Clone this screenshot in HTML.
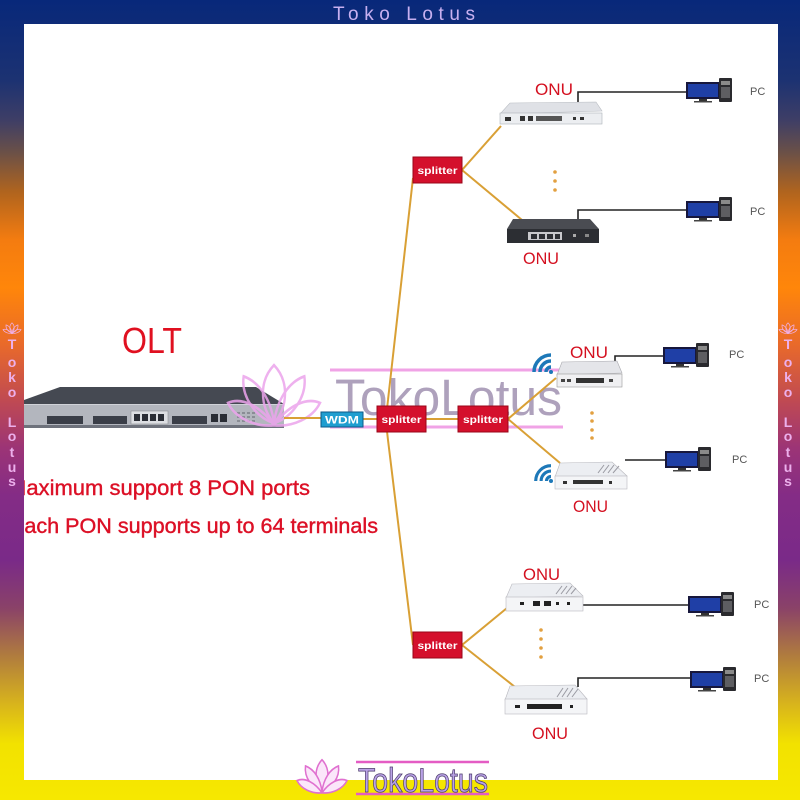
<!DOCTYPE html>
<html><head><meta charset="utf-8"><style>
html,body{margin:0;padding:0;background:#fff;}
body{width:800px;height:800px;overflow:hidden;}
svg{display:block;}
text{font-family:"Liberation Sans",Arial,sans-serif;}
</style></head><body>
<svg width="800" height="800" viewBox="0 0 800 800" xmlns="http://www.w3.org/2000/svg">
<defs>
<linearGradient id="bg" gradientUnits="userSpaceOnUse" x1="0" y1="0" x2="0" y2="800">
<stop offset="0" stop-color="#08287a"/>
<stop offset="0.1" stop-color="#1c3272"/>
<stop offset="0.15" stop-color="#3e3e66"/>
<stop offset="0.19" stop-color="#6a5048"/>
<stop offset="0.24" stop-color="#b0641e"/>
<stop offset="0.3" stop-color="#f47c10"/>
<stop offset="0.36" stop-color="#ff860a"/>
<stop offset="0.43" stop-color="#e96a2a"/>
<stop offset="0.5" stop-color="#c04a52"/>
<stop offset="0.56" stop-color="#9c3476"/>
<stop offset="0.62" stop-color="#842c86"/>
<stop offset="0.7" stop-color="#7a2a88"/>
<stop offset="0.76" stop-color="#8a4268"/>
<stop offset="0.82" stop-color="#b07c3e"/>
<stop offset="0.88" stop-color="#d8b41c"/>
<stop offset="0.93" stop-color="#f2e200"/>
<stop offset="1" stop-color="#f6e800"/>
</linearGradient>
<g id="pc">
<rect x="0" y="4" width="34" height="17" fill="#17173c"/>
<rect x="2" y="6" width="30" height="13" fill="#1f3fa6"/>
<rect x="13" y="21" width="8" height="2" fill="#333"/>
<rect x="8" y="23" width="18" height="1.5" fill="#444"/>
<rect x="33" y="0" width="13" height="24" rx="1" fill="#2a2a2e"/>
<rect x="35" y="3" width="9" height="4" fill="#8a8a8a"/>
<rect x="35" y="9" width="9" height="11" fill="#5e5e62"/>
</g>
<g id="wifi" fill="none" stroke="#1d78b8" stroke-width="3.5">
<path d="M-5,0 A5 5 0 0 1 0,-5"/>
<path d="M-11,0 A11 11 0 0 1 0,-11"/>
<path d="M-17,0 A17 17 0 0 1 0,-17"/>
</g>
<g id="lotus">
<path d="M50,5 C66,20 66,45 50,62 C34,45 34,20 50,5 Z"/>
<path d="M50,62 C30,56 14,36 17,16 C35,22 47,40 50,62 Z"/>
<path d="M50,62 C70,56 86,36 83,16 C65,22 53,40 50,62 Z"/>
<path d="M50,64 C30,66 8,57 0,42 C16,36 36,46 50,64 Z"/>
<path d="M50,64 C70,66 92,57 100,42 C84,36 64,46 50,64 Z"/>
</g>
</defs>

<rect x="0" y="0" width="800" height="800" fill="url(#bg)"/>
<rect x="24" y="24" width="754" height="756" fill="#ffffff"/>

<text x="8" y="495" font-size="21" fill="#dc1026" stroke="#dc1026" stroke-width="0.4" textLength="302" lengthAdjust="spacingAndGlyphs">Maximum support 8 PON ports</text>
<text x="10" y="533" font-size="21" fill="#dc1026" stroke="#dc1026" stroke-width="0.4" textLength="368" lengthAdjust="spacingAndGlyphs">Each PON supports up to 64 terminals</text>
<rect x="0" y="24" width="24" height="756" fill="url(#bg)"/>

<text x="122" y="353" font-size="36" fill="#e01020" textLength="60" lengthAdjust="spacingAndGlyphs">OLT</text>

<line x1="330" y1="370" x2="563" y2="370" stroke="#ee94e2" stroke-width="3" opacity="0.85"/>
<line x1="330" y1="427" x2="563" y2="427" stroke="#ee94e2" stroke-width="3" opacity="0.85"/>
<text x="335" y="415" font-size="51" fill="#9a8aac" opacity="0.8" textLength="227" lengthAdjust="spacingAndGlyphs">TokoLotus</text>

<polygon points="60,387 256,387 284,404 24,405 24,400" fill="#454952"/>
<line x1="24" y1="404.5" x2="284" y2="404.5" stroke="#d0d2d8" stroke-width="1"/>
<rect x="24" y="405" width="260" height="22" fill="#b3b6be"/>
<rect x="24" y="425" width="260" height="3" fill="#6e727c"/>
<rect x="47" y="416" width="36" height="8" fill="#3a3e48"/>
<rect x="93" y="416" width="34" height="8" fill="#3a3e48"/>
<rect x="131" y="411" width="37" height="13" fill="#dcdee2" stroke="#8a8c92" stroke-width="0.6"/>
<rect x="134" y="414" width="6" height="7" fill="#2a2d35"/>
<rect x="142" y="414" width="6" height="7" fill="#2a2d35"/>
<rect x="150" y="414" width="6" height="7" fill="#2a2d35"/>
<rect x="158" y="414" width="6" height="7" fill="#2a2d35"/>
<rect x="172" y="416" width="35" height="8" fill="#3a3e48"/>
<rect x="211" y="414" width="7" height="8" fill="#2a2d35"/>
<rect x="220" y="414" width="7" height="8" fill="#2a2d35"/>
<g fill="#8a8d95">
<rect x="237" y="412" width="3" height="2"/><rect x="242" y="412" width="3" height="2"/><rect x="247" y="412" width="3" height="2"/><rect x="252" y="412" width="3" height="2"/>
<rect x="237" y="416" width="3" height="2"/><rect x="242" y="416" width="3" height="2"/><rect x="247" y="416" width="3" height="2"/><rect x="252" y="416" width="3" height="2"/>
<rect x="237" y="420" width="3" height="2"/><rect x="242" y="420" width="3" height="2"/><rect x="247" y="420" width="3" height="2"/><rect x="252" y="420" width="3" height="2"/>
</g>

<g opacity="0.85" fill="none" stroke="#eca4ec" stroke-width="2.6">
<use href="#lotus" transform="translate(228,360) scale(0.92,1.02)"/>
</g>

<g stroke="#d9a035" stroke-width="2" fill="none">
<path d="M284,418 H321"/>
<path d="M363,419 H377"/>
<path d="M426,419 H458"/>
<path d="M413,178 L388,400 Q385,420 388,440 L413,645"/>
<path d="M462,170 L501,126"/>
<path d="M462,170 L522,220"/>
<path d="M508,419 L556,378"/>
<path d="M508,419 L560,463"/>
<path d="M462,645 L507,608"/>
<path d="M462,645 L515,687"/>
</g>

<rect x="321" y="412" width="42" height="15" fill="#1f9ed0" stroke="#0b5a88" stroke-width="1"/>
<text x="342" y="423.5" font-size="11" font-weight="bold" fill="#fff" text-anchor="middle" textLength="34" lengthAdjust="spacingAndGlyphs">WDM</text>

<g fill="#d4102c" stroke="#9a0618" stroke-width="1">
<rect x="413" y="157" width="49" height="26"/>
<rect x="377" y="406" width="49" height="26"/>
<rect x="458" y="406" width="50" height="26"/>
<rect x="413" y="632" width="49" height="26"/>
</g>
<g font-size="10" font-weight="bold" fill="#fff" text-anchor="middle">
<text x="437.5" y="174" textLength="40" lengthAdjust="spacingAndGlyphs">splitter</text>
<text x="401.5" y="423" textLength="40" lengthAdjust="spacingAndGlyphs">splitter</text>
<text x="483" y="423" textLength="40" lengthAdjust="spacingAndGlyphs">splitter</text>
<text x="437.5" y="649" textLength="40" lengthAdjust="spacingAndGlyphs">splitter</text>
</g>

<g fill="#e2a040">
<circle cx="555" cy="172" r="1.8"/><circle cx="555" cy="181" r="1.8"/><circle cx="555" cy="190" r="1.8"/>
<circle cx="592" cy="413" r="1.8"/><circle cx="592" cy="421" r="1.8"/><circle cx="592" cy="430" r="1.8"/><circle cx="592" cy="438" r="1.8"/>
<circle cx="541" cy="630" r="1.8"/><circle cx="541" cy="639" r="1.8"/><circle cx="541" cy="648" r="1.8"/><circle cx="541" cy="657" r="1.8"/>
</g>

<g stroke="#222" stroke-width="1.6" fill="none">
<path d="M578,102 V92 H688"/>
<path d="M578,220 V210 H686"/>
<path d="M615,367 V356 H663"/>
<path d="M625,460 H665"/>
<path d="M583,605 H688"/>
<path d="M578,687 V678 H690"/>
</g>

<polygon points="510,103 596,102 602,111 500,114" fill="#dfe1e6" stroke="#b8bcc2" stroke-width="0.6"/>
<rect x="500" y="113" width="102" height="11" fill="#eceef1" stroke="#aeb2b8" stroke-width="0.6"/>
<g fill="#333">
<rect x="505" y="117" width="6" height="4"/><rect x="520" y="116" width="5" height="5"/><rect x="528" y="116" width="5" height="5"/>
<rect x="536" y="116" width="26" height="5" fill="#555"/><rect x="573" y="117" width="3" height="3"/><rect x="580" y="117" width="4" height="3"/>
</g>
<polygon points="513,219 590,219 599,229 507,229" fill="#4a4c52"/>
<rect x="507" y="229" width="92" height="14" fill="#2c2e33"/>
<rect x="528" y="232" width="34" height="8" fill="#c8c8cc"/>
<g fill="#2c2e33"><rect x="531" y="234" width="6" height="5"/><rect x="539" y="234" width="6" height="5"/><rect x="547" y="234" width="6" height="5"/><rect x="555" y="234" width="5" height="5"/></g>
<rect x="573" y="234" width="3" height="3" fill="#aaa"/><rect x="585" y="234" width="4" height="3" fill="#888"/>
<polygon points="562,362 617,361 622,373 557,375" fill="#e4e5e9" stroke="#a8a8ae" stroke-width="0.6"/>
<rect x="557" y="374" width="65" height="13" fill="#f0f0f2" stroke="#999" stroke-width="0.6"/>
<rect x="576" y="378" width="28" height="5" fill="#333"/>
<rect x="561" y="379" width="4" height="3" fill="#444"/><rect x="567" y="379" width="4" height="3" fill="#444"/><rect x="609" y="379" width="4" height="3" fill="#444"/>
<use href="#wifi" transform="translate(551,372)"/>
<circle cx="551" cy="372" r="2" fill="#1d78b8"/>
<polygon points="560,463 612,462 627,476 555,477" fill="#eceef2" stroke="#b8b8be" stroke-width="0.6"/>
<g stroke="#9a9aa2" stroke-width="1"><line x1="598" y1="473" x2="604" y2="465"/><line x1="603" y1="473" x2="609" y2="465"/><line x1="608" y1="473" x2="614" y2="465"/><line x1="613" y1="473" x2="619" y2="466"/></g>
<rect x="555" y="476" width="72" height="13" fill="#f4f5f7" stroke="#b8b8be" stroke-width="0.6"/>
<rect x="573" y="480" width="30" height="4" fill="#333"/>
<rect x="563" y="481" width="4" height="3" fill="#333"/><rect x="609" y="481" width="3" height="3" fill="#333"/>
<use href="#wifi" transform="translate(551,481) scale(0.9)"/>
<circle cx="551" cy="481" r="2" fill="#1d78b8"/>
<polygon points="512,584 570,583 583,596 506,598" fill="#eceef2" stroke="#b8b8be" stroke-width="0.6"/>
<g stroke="#9a9aa2" stroke-width="1"><line x1="556" y1="594" x2="562" y2="586"/><line x1="561" y1="594" x2="567" y2="586"/><line x1="566" y1="594" x2="572" y2="586"/><line x1="571" y1="594" x2="576" y2="588"/></g>
<rect x="506" y="597" width="77" height="14" fill="#f4f5f7" stroke="#b8b8be" stroke-width="0.6"/>
<rect x="520" y="602" width="4" height="3" fill="#222"/><rect x="533" y="601" width="7" height="5" fill="#222"/><rect x="544" y="601" width="7" height="5" fill="#222"/><rect x="556" y="602" width="3" height="3" fill="#222"/><rect x="567" y="602" width="3" height="3" fill="#222"/>
<polygon points="510,686 575,685 587,699 505,700" fill="#eceef2" stroke="#b8b8be" stroke-width="0.6"/>
<g stroke="#9a9aa2" stroke-width="1"><line x1="557" y1="697" x2="563" y2="688"/><line x1="562" y1="697" x2="568" y2="688"/><line x1="567" y1="697" x2="573" y2="688"/><line x1="572" y1="697" x2="578" y2="689"/></g>
<rect x="505" y="699" width="82" height="15" fill="#f4f5f7" stroke="#b8b8be" stroke-width="0.6"/>
<rect x="527" y="704" width="35" height="5" fill="#222"/>
<rect x="515" y="705" width="5" height="3" fill="#222"/><rect x="570" y="705" width="3" height="3" fill="#222"/>

<use href="#pc" transform="translate(686,78)"/>
<use href="#pc" transform="translate(686,197)"/>
<use href="#pc" transform="translate(663,343)"/>
<use href="#pc" transform="translate(665,447)"/>
<use href="#pc" transform="translate(688,592)"/>
<use href="#pc" transform="translate(690,667)"/>
<g font-size="11" fill="#555">
<text x="750" y="95">PC</text>
<text x="750" y="215">PC</text>
<text x="729" y="358">PC</text>
<text x="732" y="463">PC</text>
<text x="754" y="608">PC</text>
<text x="754" y="682">PC</text>
</g>

<g font-size="17" fill="#d41020">
<text x="535" y="95" textLength="38" lengthAdjust="spacingAndGlyphs">ONU</text>
<text x="523" y="264" textLength="36" lengthAdjust="spacingAndGlyphs">ONU</text>
<text x="570" y="358" textLength="38" lengthAdjust="spacingAndGlyphs">ONU</text>
<text x="573" y="512" textLength="35" lengthAdjust="spacingAndGlyphs">ONU</text>
<text x="523" y="580" textLength="37" lengthAdjust="spacingAndGlyphs">ONU</text>
<text x="532" y="739" textLength="36" lengthAdjust="spacingAndGlyphs">ONU</text>
</g>

<text x="333" y="20" font-size="19" fill="#c8b0f0" textLength="142" lengthAdjust="spacing">Toko Lotus</text>

<g font-size="14" font-weight="bold" fill="#ecb0ec" text-anchor="middle">
<text x="12" y="349">T</text><text x="12" y="367">o</text><text x="12" y="382">k</text><text x="12" y="397">o</text>
<text x="12" y="427">L</text><text x="12" y="441">o</text><text x="12" y="457">t</text><text x="12" y="472">u</text><text x="12" y="486">s</text>
<text x="788" y="349">T</text><text x="788" y="367">o</text><text x="788" y="382">k</text><text x="788" y="397">o</text>
<text x="788" y="427">L</text><text x="788" y="441">o</text><text x="788" y="457">t</text><text x="788" y="472">u</text><text x="788" y="486">s</text>
</g>
<g fill="none" stroke="#f0b0e8" stroke-width="4">
<use href="#lotus" transform="translate(3,322) scale(0.18,0.18)"/>
<use href="#lotus" transform="translate(779,322) scale(0.18,0.18)"/>
</g>

<g fill="#fbe6fa" stroke="#e070d0" stroke-width="3">
<use href="#lotus" transform="translate(297,757) scale(0.5,0.56)"/>
</g>
<line x1="356" y1="762" x2="489" y2="762" stroke="#e45cc4" stroke-width="2.5"/>
<line x1="356" y1="794" x2="489" y2="794" stroke="#e45cc4" stroke-width="2.5"/>
<text x="358" y="792" font-size="34" fill="#b9a2e6" stroke="#4a3a6a" stroke-width="0.8" textLength="130" lengthAdjust="spacingAndGlyphs">TokoLotus</text>
</svg>
</body></html>
